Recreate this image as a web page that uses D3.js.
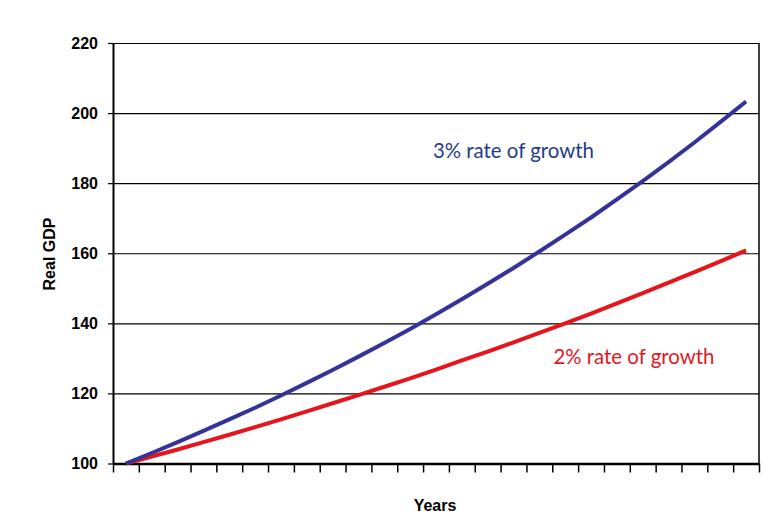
<!DOCTYPE html>
<html>
<head>
<meta charset="utf-8">
<script src="https://cdn.jsdelivr.net/npm/d3@7"></script>
<style>
  html, body { margin: 0; padding: 0; background: #fff; }
  svg { display: block; }
</style>
</head>
<body>
<svg id="chart" width="775" height="532"></svg>
<script>
// ---- data ----
const years = ["1","2","3","4","5","6","7","8","9","10","11","12","13","14","15","16","17","18","19","20","21","22","23","24","25"];
const growth3 = [100, 103, 106.1, 109.3, 112.6, 115.9, 119.4, 123.0, 126.7, 130.5, 134.4, 138.4, 142.6, 146.9, 151.3, 155.8, 160.5, 165.3, 170.2, 175.4, 180.6, 186.0, 191.6, 197.4, 203.3];
const growth2 = [100, 102, 104.0, 106.1, 108.2, 110.4, 112.6, 114.9, 117.2, 119.5, 121.9, 124.3, 126.8, 129.4, 131.9, 134.6, 137.3, 140.0, 142.8, 145.7, 148.6, 151.6, 154.6, 157.7, 160.8];
const yTicks = [100, 120, 140, 160, 180, 200, 220];
const seriesLabels = ["3% rate of growth", "2% rate of growth"];
const xTitle = "Years";
const yTitle = "Real GDP";

// ---- layout ----
const plotL = 113, plotR = 759, plotT = 43, plotB = 463.5;
const svg = d3.select("#chart");

const x = d3.scaleBand().domain(years).range([plotL, plotR]).padding(0);
const xTickScale = d3.scaleLinear().domain([0, years.length]).range([plotL, plotR]);
const y = d3.scaleLinear().domain([100, 220]).range([plotB, plotT]);

// gridlines
svg.append("g")
  .attr("transform", `translate(${plotL},0)`)
  .call(d3.axisLeft(y).tickValues(yTicks.slice(1)).tickSize(-(plotR - plotL)).tickFormat(""))
  .call(g => g.select(".domain").remove())
  .call(g => g.selectAll("line").attr("stroke", "#000").attr("stroke-width", 1.2));

// right border
svg.append("line")
  .attr("x1", plotR).attr("x2", plotR)
  .attr("y1", y(220)).attr("y2", y(100))
  .attr("stroke", "#000").attr("stroke-width", 1.5);

// y axis
const yAxis = svg.append("g")
  .attr("transform", `translate(${plotL},0)`)
  .call(d3.axisLeft(y).tickValues(yTicks).tickSize(5).tickSizeOuter(0).tickPadding(10).tickFormat(d3.format("d")));
yAxis.select(".domain").attr("stroke", "#000").attr("stroke-width", 2);
yAxis.selectAll("line").attr("stroke", "#000").attr("stroke-width", 1.2);
yAxis.selectAll("text")
  .attr("font-family", "Liberation Sans, Arial, sans-serif")
  .attr("font-weight", "bold")
  .attr("font-size", 16)
  .attr("fill", "#000");

// x axis (tick marks between categories, no labels)
const xAxis = svg.append("g")
  .attr("transform", `translate(0,${plotB})`)
  .call(d3.axisBottom(xTickScale).tickValues(d3.range(0, years.length + 1)).tickSize(9).tickSizeOuter(0).tickFormat(""));
xAxis.select(".domain").attr("stroke", "#000").attr("stroke-width", 2.5);
xAxis.selectAll("line").attr("stroke", "#000").attr("stroke-width", 1.5);

// lines
const line = d3.line()
  .x((d, i) => x(years[i]) + x.bandwidth() / 2)
  .y(d => y(d));

svg.append("path")
  .datum(growth2)
  .attr("d", line)
  .attr("fill", "none")
  .attr("stroke", "#E8141C")
  .attr("stroke-width", 4)
  .attr("stroke-linejoin", "round");

svg.append("path")
  .datum(growth3)
  .attr("d", line)
  .attr("fill", "none")
  .attr("stroke", "#333399")
  .attr("stroke-width", 4)
  .attr("stroke-linejoin", "round");

// annotations
function fitText(sel, targetWidth) {
  const node = sel.node();
  const fs = 18;
  sel.attr("font-size", fs);
  const w = node.getComputedTextLength();
  if (w > 0) sel.attr("font-size", fs * targetWidth / w);
}
const t3 = svg.append("text")
  .attr("x", 433).attr("y", 157.5)
  .attr("font-family", "Lato, 'Open Sans', sans-serif")
  .attr("fill", "#1F3C88")
  .text(seriesLabels[0]);
fitText(t3, 161);

const t2 = svg.append("text")
  .attr("x", 553.5).attr("y", 364)
  .attr("font-family", "Lato, 'Open Sans', sans-serif")
  .attr("fill", "#E0191F")
  .text(seriesLabels[1]);
fitText(t2, 161);

// axis titles
svg.append("text")
  .attr("x", (plotL + plotR) / 2 - 1).attr("y", 510.5)
  .attr("text-anchor", "middle")
  .attr("font-family", "Liberation Sans, Arial, sans-serif")
  .attr("font-weight", "bold")
  .attr("font-size", 16)
  .attr("fill", "#000")
  .text(xTitle);

svg.append("text")
  .attr("transform", `translate(55,254) rotate(-90)`)
  .attr("text-anchor", "middle")
  .attr("font-family", "Liberation Sans, Arial, sans-serif")
  .attr("font-weight", "bold")
  .attr("font-size", 16)
  .attr("fill", "#000")
  .text(yTitle);
</script>
</body>
</html>
